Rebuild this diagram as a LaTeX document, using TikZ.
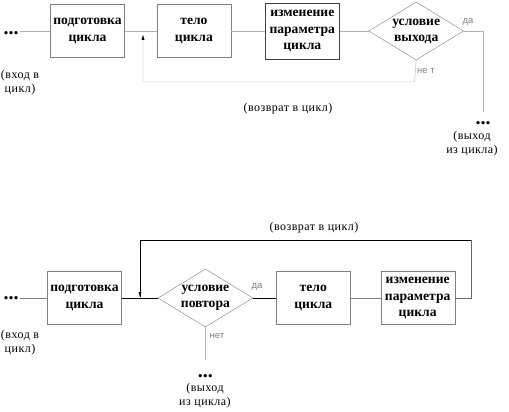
\documentclass[tikz,border=0pt]{standalone}
\usepackage{fontspec}
\setmainfont{Liberation Serif}
\newfontfamily\yesnofont{Liberation Sans}
\usetikzlibrary{shapes,arrows,positioning}

\begin{document}
\begin{tikzpicture}[x=1pt, y=-1pt, node distance=32pt, auto]
    % Define block styles
    \tikzstyle{block} = [rectangle, draw=gray, text centered, align=center, minimum width=74pt, minimum height=53pt, inner sep=1pt, font=\fontsize{13.6}{16.5}\selectfont\bfseries]
    \tikzstyle{cond} = [diamond, draw=gray, align=center, minimum width=95pt, minimum height=58pt, inner xsep=-10pt, inner ysep=-8pt, font=\fontsize{13.6}{16}\selectfont\bfseries]
    \tikzstyle{note} = [inner sep=1pt, align=center, font=\fontsize{12}{14}\selectfont\addfontfeature{LetterSpace=4}]
    \tikzstyle{dots} = [inner sep=1pt, font=\fontsize{20}{20}\selectfont\bfseries]
    \tikzstyle{yesno} = [inner sep=1pt, text=gray, font=\fontsize{9.5}{10}\selectfont\yesnofont]
    \tikzstyle{line} = [draw=black!30]
    \tikzstyle{linedark} = [draw=black]

    \useasboundingbox (0,0) rectangle (509,412);

    % Nodes (top)
    \node [dots] (Dots_In_Top) at (11,33) {...};
    \node [block] (Prep_Top) at (87.5,31) {подготовка\\цикла};
    \node [block, right=32pt of Prep_Top] (Body_Top) {тело\\цикла};
    \node [block, draw=black!75, minimum height=56pt, right=34pt of Body_Top] (Change_Top) {изменение\\параметра\\цикла};
    \node [cond, right=29pt of Change_Top] (Cond_Top) {условие\\выхода};
    \node [note] (In_Top) at (20,83) {(вход в\\цикл)};
    \node [yesno] (Yes_Top) at (468,22) {да};
    \node [yesno] (No_Top) at (426,71) {не т};
    \node [note] (Back_Note_Top) at (288,109) {(возврат в цикл)};
    \node [dots] (Dots_Out_Top) at (483,123) {...};
    \node [note] (Out_Top) at (472,144) {(выход\\из цикла)};
    \coordinate (Turn_Top) at (414.5,82);
    \coordinate (Back_Top) at (143,35);

    % Arrows (top)
    \path [line] (Dots_In_Top.east |- Prep_Top.west) -- (Prep_Top.west);
    \path [line] (Prep_Top.east) -- (Body_Top.west);
    \path [line] (Body_Top.east) -- (Change_Top.west);
    \path [line] (Change_Top.east) -- (Cond_Top.west);
    \path [line] (Cond_Top.east) -| ([yshift=8pt]Dots_Out_Top.north);
    \path [line] (Cond_Top.south) -- (Turn_Top) -| (Back_Top);
    \fill [black] (Back_Top) -- ++(-1.5,5) -- ++(3,0) -- cycle;

    % Nodes (bottom)
    \node [dots] (Dots_In_Bot) at (11,298) {...};
    \node [block] (Prep_Bot) at (84.5,298) {подготовка\\цикла};
    \node [cond, right=36pt of Prep_Bot] (Cond_Bot) {условие\\повтора};
    \node [block, right=23pt of Cond_Bot] (Body_Bot) {тело\\цикла};
    \node [block, right=30pt of Body_Bot] (Change_Bot) {изменение\\параметра\\цикла};
    \node [note] (In_Bot) at (20,343) {(вход в\\цикл)};
    \node [yesno] (Yes_Bot) at (257,287) {да};
    \node [yesno] (No_Bot) at (217,336) {нет};
    \node [note] (Back_Note_Bot) at (314,228) {(возврат в цикл)};
    \node [dots] (Dots_Out_Bot) at (Cond_Bot.south |- 0,376) {...};
    \node [note] (Out_Bot) at (205,396) {(выход\\из цикла)};
    \coordinate (Loop_Bot) at (471,240);
    \coordinate (Back_Bot) at (140,297);

    % Arrows (bottom)
    \path [line, draw=gray] (Dots_In_Bot.east |- Prep_Bot.west) -- (Prep_Bot.west);
    \path [linedark] (Prep_Bot.east) -- (Cond_Bot.west);
    \path [linedark] (Cond_Bot.east) -- (Body_Bot.west);
    \path [line, draw=gray] (Body_Bot.east) -- (Change_Bot.west);
    \path [line, draw=black!60] (Change_Bot.east) -| (Loop_Bot);
    \path [linedark] (Loop_Bot) -| (Back_Bot);
    \fill [black] (Back_Bot) -- ++(-1.5,-5) -- ++(3,0) -- cycle;
    \path [line] (Cond_Bot.south) -- ([yshift=13pt]Dots_Out_Bot.north);

\end{tikzpicture}
\end{document}
